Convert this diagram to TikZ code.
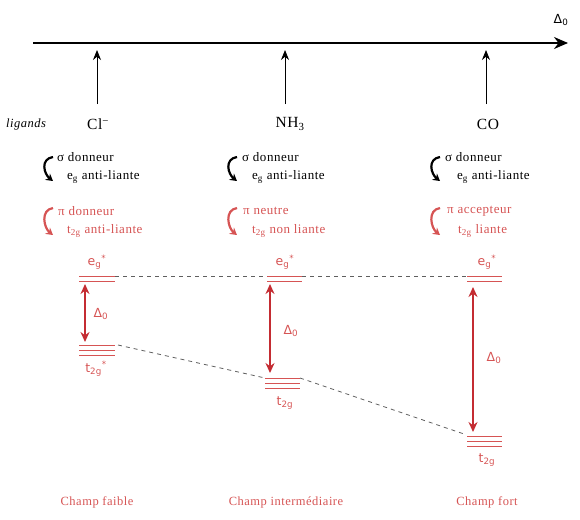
\documentclass[tikz,border=0pt]{standalone}
\usepackage{fontspec}
\setmainfont{Liberation Serif}[LetterSpace=4]
\newfontfamily\dsans{DejaVu Sans}
\usetikzlibrary{arrows.meta}
\definecolor{lred}{RGB}{214,84,84}
\definecolor{dred}{RGB}{196,44,50}
\definecolor{dgrey}{RGB}{95,95,95}
\begin{document}
\begin{tikzpicture}[x=1pt,y=-1pt,
  txt/.style={font=\fontsize{13}{14}\selectfont, inner sep=0pt, anchor=west},
  rtxt/.style={txt, text=lred},
  lig/.style={font=\fontsize{15.5}{16}\selectfont, inner sep=0pt},
  lvltxt/.style={font=\dsans\fontsize{12.5}{13}\selectfont, text=lred, inner sep=0pt},
  fieldtxt/.style={font=\fontsize{12.5}{13}\selectfont, text=lred, inner sep=0pt},
  lvl/.style={draw=lred, line width=0.7pt},
  updown/.style={draw=dred, line width=1.5pt, {Stealth[length=10pt,width=9pt]}-{Stealth[length=10pt,width=9pt]}},
  uparr/.style={draw=black, line width=0.9pt, -{Stealth[length=10pt,width=8pt]}},
  curv/.style={line width=2.2pt, -{Stealth[length=7pt,width=8pt]}},
  dsh/.style={draw=dgrey, line width=0.8pt, dash pattern=on 4pt off 4pt}
]
\useasboundingbox (0,0) rectangle (580,519);

% main axis
\coordinate (a0) at (33,43);
\coordinate (a1) at (568,43);
\draw[line width=1.8pt, -{Stealth[length=14pt,width=12pt]}] (a0) -- (a1);
\node[lvltxt, text=black] (delta) at (561,20) {Δ\textsubscript{0}};

% ligand arrows
\coordinate (u1b) at (97,104); \coordinate (u1t) at (97,50);
\coordinate (u2b) at (285,104); \coordinate (u2t) at (285,50);
\coordinate (u3b) at (486,104); \coordinate (u3t) at (486,50);
\draw[uparr] (u1b) -- (u1t);
\draw[uparr] (u2b) -- (u2t);
\draw[uparr] (u3b) -- (u3t);

% ligands
\node[font=\itshape\fontsize{12.5}{13}\selectfont, inner sep=0pt] (ligands) at (26,124) {ligands};
\node[lig] (cl) at (98,124) {Cl\textsuperscript{−}};
\node[lig] (nh3) at (290,124) {NH\textsubscript{3}};
\node[lig] (co) at (488,124) {CO};

% sigma / pi rows
\foreach \n/\xa in {1/53, 2/237, 3/440}{
  \coordinate (s\n t) at (\xa,157);
  \coordinate (s\n b) at (\xa,181);
  \coordinate (p\n t) at (\xa,208);
  \coordinate (p\n b) at (\xa,235);
  \draw[curv, black] (s\n t) .. controls +(-13,2) and +(-9,-7) .. (s\n b);
  \draw[curv, lred] (p\n t) .. controls +(-13,2) and +(-9,-7) .. (p\n b);
}
\node[txt] (sd1) at (57,157) {σ donneur};
\node[txt] (eg1) at (67,177) {e\textsubscript{g} anti-liante};
\node[txt] (sd2) at (242,157) {σ donneur};
\node[txt] (eg2) at (252,177) {e\textsubscript{g} anti-liante};
\node[txt] (sd3) at (445,157) {σ donneur};
\node[txt] (eg3) at (457,177) {e\textsubscript{g} anti-liante};
\node[rtxt] (pd1) at (58,211) {π donneur};
\node[rtxt] (tg1) at (67,231) {t\textsubscript{2g} anti-liante};
\node[rtxt] (pd2) at (243,211) {π neutre};
\node[rtxt] (tg2) at (252,231) {t\textsubscript{2g} non liante};
\node[rtxt] (pd3) at (447,211) {π accepteur};
\node[rtxt] (tg3) at (458,231) {t\textsubscript{2g} liante};

% levels column 1
\coordinate (e1l) at (79,276); \coordinate (e1r) at (115,276);
\draw[lvl] (e1l) -- (e1r);
\draw[lvl] (79,281) -- (115,281);
\coordinate (t1l) at (79,345); \coordinate (t1r) at (115,345);
\draw[lvl] (t1l) -- (t1r);
\draw[lvl] (79,350) -- (115,350);
\draw[lvl] (79,355) -- (115,355);
% levels column 2
\coordinate (e2l) at (267,276); \coordinate (e2r) at (302,276);
\draw[lvl] (e2l) -- (e2r);
\draw[lvl] (267,281) -- (302,281);
\coordinate (t2l) at (265,378); \coordinate (t2r) at (300,378);
\draw[lvl] (t2l) -- (t2r);
\draw[lvl] (265,383) -- (300,383);
\draw[lvl] (265,388) -- (300,388);
% levels column 3
\coordinate (e3l) at (467,276); \coordinate (e3r) at (502,276);
\draw[lvl] (e3l) -- (e3r);
\draw[lvl] (467,281) -- (502,281);
\coordinate (t3l) at (467,436); \coordinate (t3r) at (502,436);
\draw[lvl] (t3l) -- (t3r);
\draw[lvl] (467,441) -- (502,441);
\draw[lvl] (467,446) -- (502,446);

% dashed connectors
\draw[dsh] (e1r) -- (e2l);
\draw[dsh] (e2r) -- (e3l);
\coordinate (t1d) at (118,345);
\coordinate (t3d) at (464,434);
\draw[dsh] (t1d) -- (t2l);
\draw[dsh] (t2r) -- (t3d);

% level labels
\node[lvltxt] (eg1l) at (97,262) {e\textsubscript{g}\textsuperscript{*}};
\node[lvltxt] (eg2l) at (285,262) {e\textsubscript{g}\textsuperscript{*}};
\node[lvltxt] (eg3l) at (487,262) {e\textsubscript{g}\textsuperscript{*}};
\node[lvltxt] (t1lab) at (96,369) {t\textsubscript{2g}\textsuperscript{*}};
\node[lvltxt] (t2lab) at (285,403) {t\textsubscript{2g}};
\node[lvltxt] (t3lab) at (487,460) {t\textsubscript{2g}};

% Delta arrows
\coordinate (d1t) at (85,284); \coordinate (d1b) at (85,342);
\coordinate (d2t) at (270,284); \coordinate (d2b) at (270,373);
\coordinate (d3t) at (473,287); \coordinate (d3b) at (473,432);
\draw[updown] (d1t) -- (d1b);
\draw[updown] (d2t) -- (d2b);
\draw[updown] (d3t) -- (d3b);
\node[lvltxt] (dl1) at (101,314) {Δ\textsubscript{0}};
\node[lvltxt] (dl2) at (291,331) {Δ\textsubscript{0}};
\node[lvltxt] (dl3) at (494,358) {Δ\textsubscript{0}};

% field labels
\node[fieldtxt] (f1) at (97,502) {Champ faible};
\node[fieldtxt] (f2) at (286,502) {Champ intermédiaire};
\node[fieldtxt] (f3) at (487,502) {Champ fort};
\end{tikzpicture}
\end{document}
